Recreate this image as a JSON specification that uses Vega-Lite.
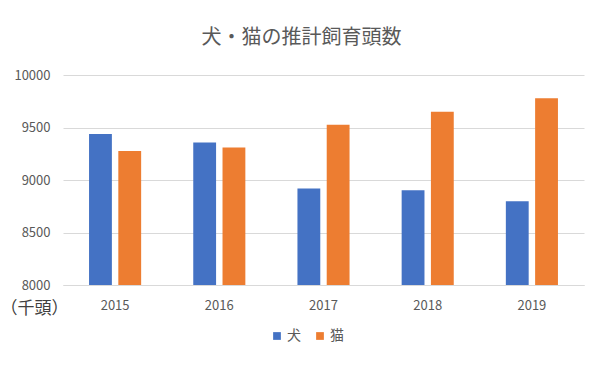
{
  "$schema": "https://vega.github.io/schema/vega-lite/v6.json",
  "autosize": "none",
  "width": 521,
  "height": 210,
  "padding": {"left": 63, "top": 75, "right": 16, "bottom": 80},
  "background": "white",
  "title": {
    "text": "犬・猫の推計飼育頭数",
    "font": "Noto Sans CJK JP",
    "fontSize": 20,
    "fontWeight": "normal",
    "color": "#595959",
    "anchor": "middle",
    "dx": -22,
    "baseline": "middle",
    "offset": 11
  },
  "data": {
    "values": [
      {"year": "2015", "animal": "犬", "value": 9438},
      {"year": "2015", "animal": "猫", "value": 9277},
      {"year": "2016", "animal": "犬", "value": 9356},
      {"year": "2016", "animal": "猫", "value": 9309},
      {"year": "2017", "animal": "犬", "value": 8920},
      {"year": "2017", "animal": "猫", "value": 9526},
      {"year": "2018", "animal": "犬", "value": 8903},
      {"year": "2018", "animal": "猫", "value": 9649},
      {"year": "2019", "animal": "犬", "value": 8797},
      {"year": "2019", "animal": "猫", "value": 9778}
    ]
  },
  "mark": {"type": "bar", "clip": true},
  "encoding": {
    "x": {
      "field": "year",
      "type": "nominal",
      "scale": {"paddingInner": 0.5, "paddingOuter": 0.25},
      "axis": {
        "title": null,
        "labelAngle": 0,
        "domain": true,
        "domainColor": "#d9d9d9",
        "ticks": false,
        "labelPadding": 14,
        "labelFont": "Noto Sans CJK JP",
        "labelFontSize": 13,
        "labelColor": "#595959"
      }
    },
    "xOffset": {
      "field": "animal",
      "type": "nominal",
      "scale": {"paddingInner": 0.22}
    },
    "y": {
      "field": "value",
      "type": "quantitative",
      "scale": {"domain": [8000, 10000], "zero": false, "nice": false},
      "axis": {
        "values": [8000, 8500, 9000, 9500, 10000],
        "format": "d",
        "domain": false,
        "ticks": false,
        "grid": true,
        "gridColor": "#d9d9d9",
        "labelPadding": 13,
        "labelFont": "Noto Sans CJK JP",
        "labelFontSize": 13,
        "labelColor": "#595959",
        "title": "（千頭）",
        "titleAngle": 0,
        "titleX": -63,
        "titleY": 233,
        "titleAlign": "left",
        "titleBaseline": "middle",
        "titleFont": "Noto Sans CJK JP",
        "titleFontSize": 17,
        "titleFontWeight": "normal",
        "titleColor": "#404040"
      }
    },
    "color": {
      "field": "animal",
      "type": "nominal",
      "scale": {"domain": ["犬", "猫"], "range": ["#4472C4", "#ED7D31"]},
      "legend": {
        "title": null,
        "orient": "none",
        "direction": "horizontal",
        "legendX": 207,
        "legendY": 254,
        "symbolType": "square",
        "symbolSize": 60,
        "symbolStrokeWidth": 0,
        "labelFont": "Noto Sans CJK JP",
        "labelFontSize": 14,
        "labelColor": "#595959",
        "labelOffset": 3,
        "columnPadding": 12
      }
    }
  },
  "config": {
    "view": {"stroke": null}
  }
}
